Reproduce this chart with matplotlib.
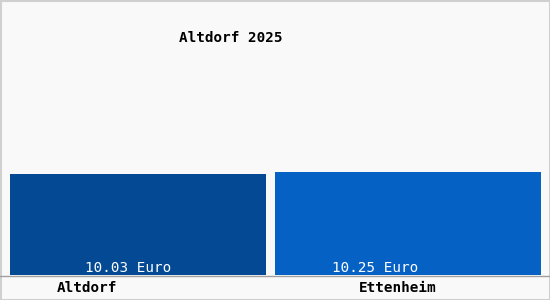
import matplotlib.pyplot as plt
from matplotlib.patches import Rectangle
import numpy as np

# data
title = 'Altdorf 2025'
orte = ['Altdorf', 'Ettenheim']
werte = [10.03, 10.25]
farben = ['#034993', '#0562c4']

W, H = 550, 300
fig = plt.figure(figsize=(5.5, 3), dpi=100, facecolor='#f9f9f9')

# axes: x 10..541 px, y 20..275 px (from top)
ax = fig.add_axes([10 / W, (H - 275) / H, 531 / W, 255 / H])
ax.set_facecolor('#f9f9f9')
x = np.arange(len(orte))
breiten = [0.948, 0.985]
ax.bar(x, werte, width=breiten, color=farben)
ax.set_xlim(-breiten[0] / 2, 1 + breiten[1] / 2)
ax.set_ylim(0, 10.25 * 255 / 103)
ax.axis('off')

mono = 'DejaVu Sans Mono'
fs = 10.3

# value labels inside bars, near the base
val_dx = [-10, -33]
for xi, v, dx in zip(x, werte, val_dx):
    ax.annotate('%.2f Euro' % v, (xi, 0), xytext=(dx * 0.72, 5),
                textcoords='offset points', ha='center', va='center',
                color='white', fontsize=fs, family=mono)

# category labels below baseline
lab_px = [87, 398]
for name, px in zip(orte, lab_px):
    fig.text(px / W, (H - 288) / H, name, ha='center', va='center',
             fontsize=fs, family=mono, fontweight='bold', color='black')

fig.text(231 / W, (H - 38) / H, title, ha='center', va='center',
         fontsize=fs, family=mono, fontweight='bold', color='black')

# baseline and frame
fig.add_artist(plt.Line2D([0, 1], [(H - 275.5) / H] * 2, color='#a0a0a0', lw=1))
fig.add_artist(Rectangle((0.5 / W, 0.5 / H), (W - 1) / W, (H - 1) / H,
                         transform=fig.transFigure, fill=False,
                         edgecolor='#d0d0d0', lw=1.5))

fig.savefig('out.png', dpi=100, facecolor=fig.get_facecolor())
